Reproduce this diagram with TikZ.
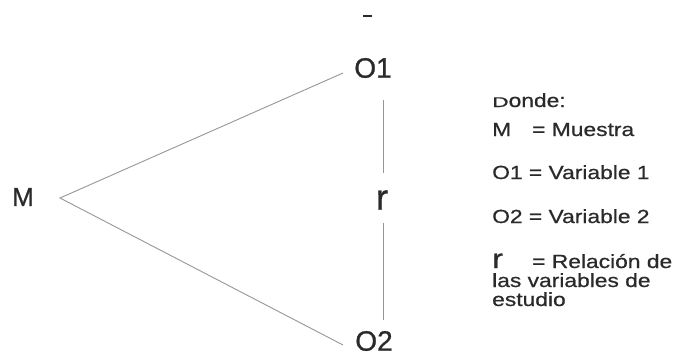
\documentclass[tikz,border=0pt]{standalone}
\usepackage{fontspec}
\setmainfont{Liberation Sans}
\newfontfamily\tagfont[FakeBold=0.9]{Liberation Sans}
\newfontfamily\legendfont[FakeStretch=1.2,FakeBold=0.7]{Liberation Sans}
\definecolor{ink}{HTML}{2A2A2A}
\definecolor{wire}{HTML}{969696}
\begin{document}
\begin{tikzpicture}[x=1pt,y=-1pt,
  bigtag/.style={inner sep=0pt,text=ink,font=\tagfont\fontsize{28}{28}\selectfont},
  legend/.style={inner sep=0pt,anchor=base west,text=ink,font=\legendfont\fontsize{19}{19}\selectfont},
  wireline/.style={draw=wire,line width=0.9pt}]
\useasboundingbox (0,0) rectangle (675,356);
% small mark at the top
\draw[ink,line width=1.8pt] (363,16) -- (372,16);
% the three variables
\node[bigtag,font=\tagfont\fontsize{26}{26}\selectfont] (M) at (23,197) {M};
\node[bigtag] (O1) at (373,68) {O1};
\node[bigtag] (O2) at (374,341) {O2};
\node[bigtag,font=\tagfont\fontsize{36}{36}\selectfont] (r) at (382,200) {r};
% branches from the sample
\coordinate (v) at (60,198);
\coordinate (a) at (343,73);
\coordinate (b) at (343,345);
\draw[wireline] (a) -- (v) -- (b);
% relation between O1 and O2
\coordinate (t1) at (383,100);
\coordinate (t2) at (383,173);
\coordinate (t3) at (383,223);
\coordinate (t4) at (383,320);
\draw[wireline] (t1) -- (t2);
\draw[wireline] (t3) -- (t4);
% legend
\node[legend] (donde) at (492,107) {\scalebox{1}[0.74]{D}onde:};
\node[legend] (lM) at (492,136) {M};
\node[legend] (eqM) at (532,136) {= Muestra};
\node[legend] (lO1) at (492,179) {O1 = Variable 1};
\node[legend] (lO2) at (492,223) {O2 = Variable 2};
\node[legend,font=\legendfont\fontsize{27}{27}\selectfont] (lr) at (492,268) {r};
\node[legend] (eqr) at (532,268) {= Relación de};
\node[legend] (l2) at (492,287) {las variables de};
\node[legend] (l3) at (492,306) {estudio};
\end{tikzpicture}
\end{document}
